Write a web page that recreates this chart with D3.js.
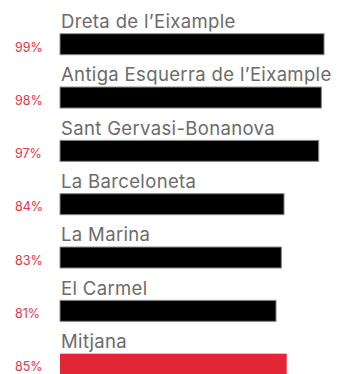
<!DOCTYPE html>
<html>
<head>
<meta charset="utf-8">
<script src="https://cdn.jsdelivr.net/npm/d3@7"></script>
<style>
  html, body { margin: 0; padding: 0; background: #fff; }
  svg { display: block; }
  .cat { font-family: Inter, "Open Sans", sans-serif; font-size: 18.5px; letter-spacing: 0.35px; fill: #6b6b6b; }
  .pct { font-family: Inter, "Open Sans", sans-serif; font-size: 12.5px; fill: #e8334a; }
</style>
</head>
<body>
<script>
// Share of households per neighbourhood, with the city average last
const categories = [
  "Dreta de l\u2019Eixample",
  "Antiga Esquerra de l\u2019Eixample",
  "Sant Gervasi-Bonanova",
  "La Barceloneta",
  "La Marina",
  "El Carmel",
  "Mitjana"
];
const values = [99, 98, 97, 84, 83, 81, 85];
const highlight = ["Mitjana"];

const width = 358, height = 374;

const svg = d3.select("body").append("svg")
  .attr("width", width)
  .attr("height", height);

const y = d3.scaleBand()
  .domain(categories)
  .range([0, 373.3])
  .paddingInner(0);

const x = d3.scaleLinear()
  .domain([0, 100])
  .range([60, 326.7]);

const rows = svg.selectAll("g.row")
  .data(categories.map((c, i) => ({ name: c, value: values[i] })))
  .join("g")
  .attr("class", "row")
  .attr("transform", d => `translate(0,${y(d.name)})`);

rows.append("rect")
  .attr("x", x(0))
  .attr("y", 33.7)
  .attr("width", d => x(d.value) - x(0))
  .attr("height", 21)
  .attr("fill", d => highlight.includes(d.name) ? "#e32636" : "#000")
  .attr("stroke", d => highlight.includes(d.name) ? "none" : "#8a8a8a")
  .attr("stroke-width", 1);

rows.append("text")
  .attr("class", "cat")
  .attr("x", x(0) + 1)
  .attr("y", 28)
  .text(d => d.name);

rows.append("text")
  .attr("class", "pct")
  .attr("x", 15)
  .attr("y", 51.5)
  .text(d => d.value + "%");
</script>
</body>
</html>
